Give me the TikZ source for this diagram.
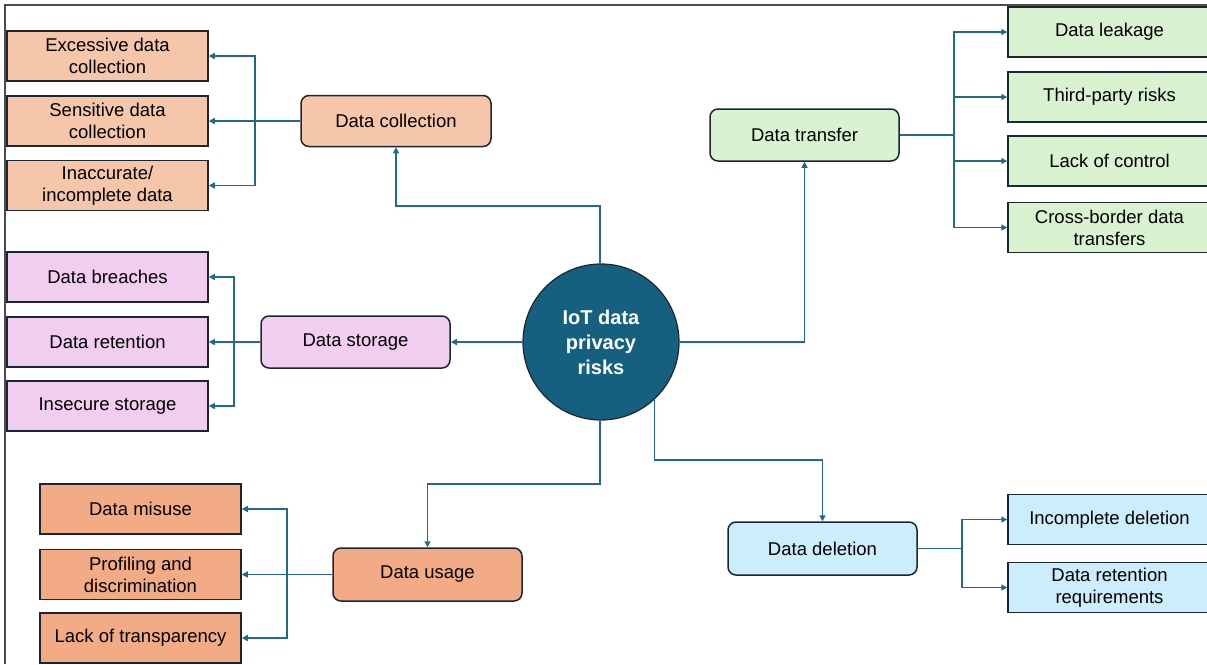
\documentclass[tikz,border=0pt]{standalone}
\usepackage{fontspec}
\setmainfont{Liberation Sans}
\usetikzlibrary{arrows.meta,calc}
\definecolor{colC}{HTML}{F6C6AB}
\definecolor{colS}{HTML}{F1CDF0}
\definecolor{colU}{HTML}{F2AB84}
\definecolor{colT}{HTML}{D9F2D0}
\definecolor{colD}{HTML}{CCEDFB}
\definecolor{hub}{HTML}{16607F}
\definecolor{arrc}{HTML}{216A8B}
\definecolor{bord}{HTML}{1A2733}
\tikzset{
  txt/.style={font=\fontsize{18.5}{22}\selectfont, align=center, inner sep=0pt, text=black},
  leaf/.style={txt, draw=bord, line width=1.5pt, rectangle, minimum width=201pt, minimum height=50pt},
  grp/.style={txt, draw=bord, line width=1.5pt, rectangle, rounded corners=8pt, minimum width=189pt, minimum height=52pt},
  conn/.style={draw=arrc, line width=1.6pt},
  arr/.style={conn, -{Triangle[length=6pt,width=6pt]}},
}
\begin{document}
\begin{tikzpicture}[x=1pt,y=-1pt]
\useasboundingbox (0,0) rectangle (1207,664);
\clip (0,0) rectangle (1207,664);
\draw[draw=black!70, line width=1.2pt] (5,664) -- (5,5) -- (1207,5);

% hub
\node[circle, fill=hub, draw=bord, line width=1.2pt, minimum size=156pt, inner sep=0pt,
      text=white, align=center, font=\fontsize{20}{25}\selectfont\bfseries] (ctr) at (601,342) {IoT data\\privacy\\risks};

% data collection
\node[grp, fill=colC, minimum width=190pt, minimum height=51pt] (col) at (396,121) {Data collection};
\node[leaf, fill=colC] (c1) at (107.5,56) {Excessive data\\collection};
\node[leaf, fill=colC] (c2) at (107.5,121) {Sensitive data\\collection};
\node[leaf, fill=colC] (c3) at (107.5,185.5) {Inaccurate/\\incomplete data};
\coordinate (bc) at (255,121);
\draw[conn] (col.west) -- (bc);
\draw[arr] (bc) |- (c1.east);
\draw[arr] (bc) -- (c2.east);
\draw[arr] (bc) |- (c3.east);
\coordinate (kc) at (600,206);
\draw[arr] (ctr.north -| kc) -- (kc) -| (col.south);

% data storage
\node[grp, fill=colS] (sto) at (355.5,342) {Data storage};
\node[leaf, fill=colS] (s1) at (107.5,277) {Data breaches};
\node[leaf, fill=colS] (s2) at (107.5,342) {Data retention};
\node[leaf, fill=colS] (s3) at (107.5,406) {Insecure storage};
\coordinate (bs) at (234,342);
\draw[conn] (sto.west) -- (bs);
\draw[arr] (bs) |- (s1.east);
\draw[arr] (bs) -- (s2.east);
\draw[arr] (bs) |- (s3.east);
\draw[arr] (ctr.west) -- (sto.east);

% data usage
\node[grp, fill=colU, minimum height=53pt] (use) at (427.5,574.5) {Data usage};
\node[leaf, fill=colU] (u1) at (140.5,509) {Data misuse};
\node[leaf, fill=colU] (u2) at (140.5,574.5) {Profiling and\\discrimination};
\node[leaf, fill=colU] (u3) at (140.5,638) {Lack of transparency};
\coordinate (bu) at (287,574.5);
\draw[conn] (use.west) -- (bu);
\draw[arr] (bu) |- (u1.east);
\draw[arr] (bu) -- (u2.east);
\draw[arr] (bu) |- (u3.east);
\coordinate (ku) at (600,484);
\draw[arr] (ctr.south -| ku) -- (ku) -| (use.north);

% data transfer
\node[grp, fill=colT] (tra) at (804.5,135) {Data transfer};
\node[leaf, fill=colT, minimum width=203pt] (t1) at (1109.5,32) {Data leakage};
\node[leaf, fill=colT, minimum width=203pt] (t2) at (1109.5,97) {Third-party risks};
\node[leaf, fill=colT, minimum width=203pt] (t3) at (1109.5,161) {Lack of control};
\node[leaf, fill=colT, minimum width=203pt] (t4) at (1109.5,227.5) {Cross-border data\\transfers};
\coordinate (bt) at (954,135);
\draw[conn] (tra.east) -- (bt);
\draw[arr] (bt) |- (t1.west);
\draw[arr] (bt) |- (t2.west);
\draw[arr] (bt) |- (t3.west);
\draw[arr] (bt) |- (t4.west);
\draw[arr] (ctr.east) -| (tra.south);

% data deletion
\node[grp, fill=colD, minimum height=53pt] (del) at (822.5,548.5) {Data deletion};
\node[leaf, fill=colD, minimum width=203pt] (d1) at (1109.5,519.5) {Incomplete deletion};
\node[leaf, fill=colD, minimum width=203pt] (d2) at (1109.5,587.5) {Data retention\\requirements};
\coordinate (bd) at (962,548.5);
\draw[conn] (del.east) -- (bd);
\draw[arr] (bd) |- (d1.west);
\draw[arr] (bd) |- (d2.west);
\coordinate (kd) at (654,460);
\draw[arr] (ctr.-47) -- (ctr.-47 |- kd) -| (del.north);
\end{tikzpicture}
\end{document}
